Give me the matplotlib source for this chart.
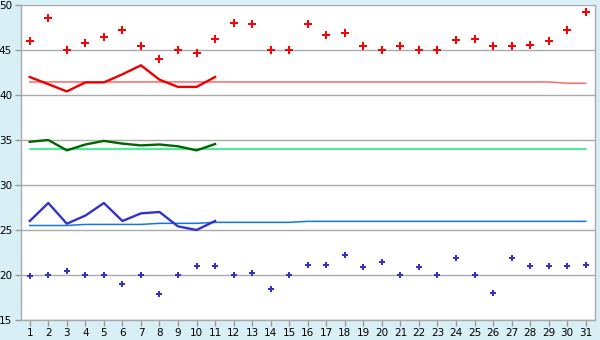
import numpy as np
import matplotlib
matplotlib.use("Agg")
import matplotlib.pyplot as plt

days = list(range(1, 32))

red_points = [46.0, 48.6, 45.0, 45.8, 46.4, 47.2, 45.4, 44.0, 45.0, 44.7,
              46.2, 48.0, 47.85, 45.0, 45.0, 47.85, 46.7, 46.85, 45.4, 45.0,
              45.4, 45.0, 45.0, 46.1, 46.2, 45.4, 45.4, 45.6, 46.0, 47.2, 49.2]
blue_points = [19.85, 20.0, 20.4, 20.0, 20.0, 19.0, 20.0, 17.85, 20.0, 21.0,
               21.0, 20.0, 20.2, 18.5, 20.0, 21.1, 21.1, 22.2, 20.85, 21.4,
               20.0, 20.85, 20.0, 21.85, 20.0, 18.0, 21.85, 21.0, 21.0, 21.0, 21.1]

line_days = list(range(1, 12))
red_line = [42.0, 41.2, 40.4, 41.4, 41.4, 42.3, 43.3, 41.7, 40.9, 40.9, 42.0]
green_line = [34.8, 35.0, 33.85, 34.5, 34.9, 34.6, 34.4, 34.5, 34.3, 33.85, 34.55]
blue_line = [26.0, 28.0, 25.7, 26.6, 28.0, 26.0, 26.85, 27.0, 25.4, 25.0, 26.0]

red_avg = [41.45] * 29 + [41.3, 41.3]
green_avg = [33.95] * 31
blue_avg = [25.5] * 3 + [25.62] * 4 + [25.74] * 3 + [25.85] * 5 + [25.96] * 16

bg = "#d9eff6"
fig = plt.figure(figsize=(6, 3.4), dpi=100, facecolor=bg)
ax = fig.add_axes([20.5 / 600, 20 / 340, 574.5 / 600, 315 / 340])
ax.set_facecolor("white")

ax.plot(days, red_avg, color="#ff6666", lw=1.1, zorder=2)
ax.plot(days, green_avg, color="#11ee77", lw=1.1, zorder=2)
ax.plot(days, blue_avg, color="#1177dd", lw=1.1, zorder=2)

ax.plot(line_days, red_line, color="#ee0000", lw=1.7, zorder=3)
ax.plot(line_days, green_line, color="#006600", lw=1.7, zorder=3)
ax.plot(line_days, blue_line, color="#3333cc", lw=1.7, zorder=3)

ax.plot(days, red_points, ls="none", marker="P", ms=5.2, color="#ff0000",
        mew=0, zorder=4)
ax.plot(days, blue_points, ls="none", marker="P", ms=4.4, color="#3333cc",
        mew=0, zorder=4)

ax.set_xlim(0.5, 31.5)
ax.set_ylim(15, 50)
ax.set_xticks(days)
ax.set_yticks(range(15, 51, 5))
ax.yaxis.grid(True, color="#aaaaaa", lw=1)
ax.set_axisbelow(True)
ax.tick_params(axis="both", colors="#999999", labelcolor="black",
               labelsize=7.5, length=4, width=1, pad=2)

for side in ["left", "bottom", "right"]:
    ax.spines[side].set_color("#aaaaaa")
    ax.spines[side].set_linewidth(1)
ax.spines["top"].set_visible(False)

fig.savefig("out.png", dpi=100, facecolor=bg)
